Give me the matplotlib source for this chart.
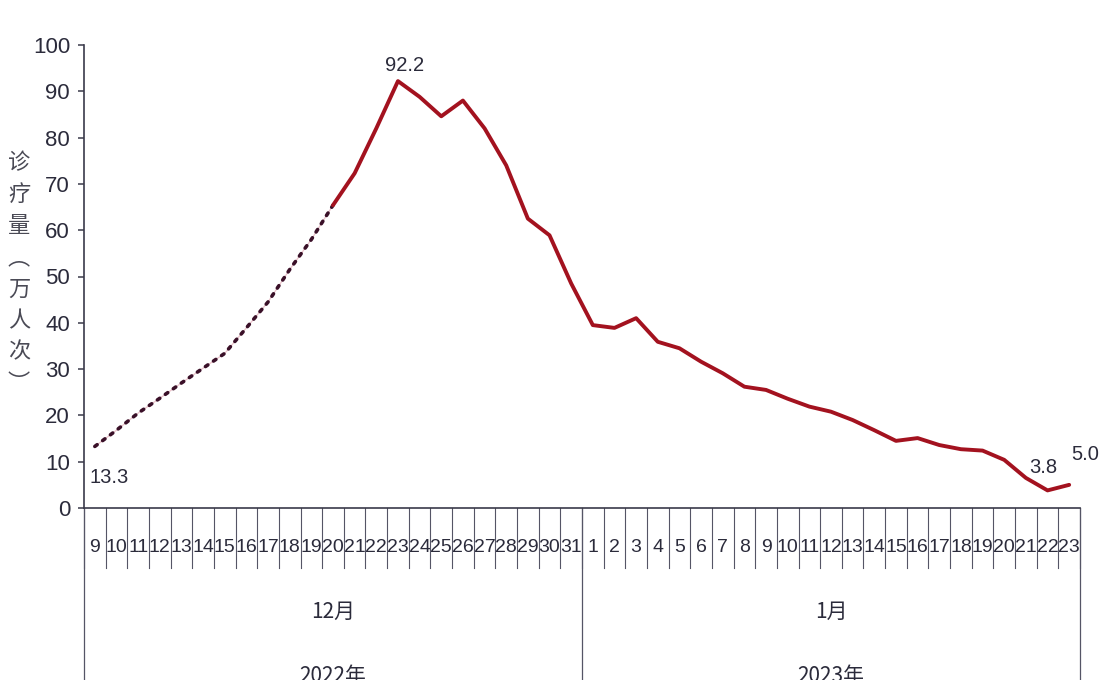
import matplotlib
matplotlib.use("Agg")
import matplotlib.pyplot as plt
import matplotlib.transforms as mtransforms
import numpy as np

# 数据：2022年12月9日 - 2023年1月23日 每日诊疗量（万人次）
dec_days = [str(d) for d in range(9, 32)]
jan_days = [str(d) for d in range(1, 24)]
dec_vals = [13.3, 16.8, 20.5, 23.7, 27.0, 30.2, 33.4, 38.9, 44.5, 51.5, 58.0, 65.4,
            72.3, 82.0, 92.2, 88.8, 84.6, 88.0, 82.0, 74.0, 62.5, 58.9, 48.5]
jan_vals = [39.5, 38.9, 41.0, 35.9, 34.5, 31.6, 29.1, 26.2, 25.5, 23.6, 21.9, 20.8,
            19.0, 16.8, 14.5, 15.1, 13.6, 12.7, 12.4, 10.4, 6.5, 3.8, 5.0]
months = ["12月", "1月"]
years = ["2022年", "2023年"]
yticks = [0, 10, 20, 30, 40, 50, 60, 70, 80, 90, 100]
ylabel_chars = ["诊", "疗", "量", "︵", "万", "人", "次", "︶"]
dotted_end = 11  # 12月20日之前为虚线
labelled = {0: "13.3", 14: "92.2", 44: "3.8", 45: "5.0"}

NUM_FONT = ["Liberation Sans Narrow", "Liberation Sans", "DejaVu Sans"]
CJK_FONT = ["Noto Sans CJK SC", "DejaVu Sans"]
TXT = "#2b2b3b"
RED = "#a3121f"

days = dec_days + jan_days
vals = np.array(dec_vals + jan_vals)
x = np.arange(len(days))

W, H = 1108, 680
fig = plt.figure(figsize=(W / 100, H / 100), dpi=100)
ax = fig.add_axes([84 / W, 1 - 508 / H, 996 / W, 463 / H])

# 虚线部分：浅红细线 + 深色点
ax.plot(x[:dotted_end + 1], vals[:dotted_end + 1], color="#ecc4cc", lw=0.9, zorder=2)
ax.plot(x[:dotted_end + 1], vals[:dotted_end + 1], color="#3a1028", lw=2.6,
        linestyle=(0, (0.8, 1.9)), dash_capstyle="round", zorder=3)
ax.plot(x[dotted_end:], vals[dotted_end:], color=RED, lw=2.8,
        solid_joinstyle="round", solid_capstyle="round", zorder=3)

ax.set_xlim(-0.5, len(days) - 0.5)
ax.set_ylim(0, 100)
for s in ["top", "right"]:
    ax.spines[s].set_visible(False)
for s in ["left", "bottom"]:
    ax.spines[s].set_color("#3a3a4a")
    ax.spines[s].set_linewidth(1.2)

ax.set_yticks(yticks)
ax.set_yticklabels([str(t) for t in yticks], family=NUM_FONT, fontsize=16, color=TXT)
ax.tick_params(axis="y", direction="out", length=4, width=1.1, color="#3a3a4a", pad=6)

ax.set_xticks(x)
ax.set_xticklabels(days, family=NUM_FONT, fontsize=14, color=TXT)
ax.tick_params(axis="x", length=0, pad=22)

# 分隔线
trans = mtransforms.blended_transform_factory(ax.transData, ax.transAxes)
for b in np.arange(len(days) + 1) - 0.5:
    ax.plot([b, b], [0, -60 / 463], color="#555566", lw=0.8, transform=trans, clip_on=False)
for b in [-0.5, len(dec_days) - 0.5, len(days) - 0.5]:
    ax.plot([b, b], [0, -175 / 463], color="#555566", lw=0.9, transform=trans, clip_on=False)

# 月份、年份
centers = [(len(dec_days) - 1) / 2, len(dec_days) + (len(jan_days) - 1) / 2]
for c, m, yr in zip(centers, months, years):
    ax.text(c, -104 / 463, m, transform=trans, ha="center", va="center",
            family=CJK_FONT, fontsize=15, color=TXT)
    ax.text(c, -157 / 463, yr, transform=trans, ha="center", va="top",
            family=CJK_FONT, fontsize=15, color=TXT)

# 数据标注
offsets = {0: (14, -31), 14: (7, 16), 44: (-4, 23), 45: (16, 30)}
for i, t in labelled.items():
    dx, dy = offsets[i]
    ax.annotate(t, (x[i], vals[i]), xytext=(dx, dy), textcoords="offset pixels",
                ha="center", va="center", family=NUM_FONT, fontsize=14.5, color=TXT,
                annotation_clip=False)

# 纵向标题
for k, ch in enumerate(ylabel_chars):
    fig.text(19 / W, 1 - (163 + k * 31.5) / H, ch, ha="center", va="center",
             family=CJK_FONT, fontsize=16, color="#4a4a55")

fig.savefig("out.png", dpi=100, facecolor="white")
